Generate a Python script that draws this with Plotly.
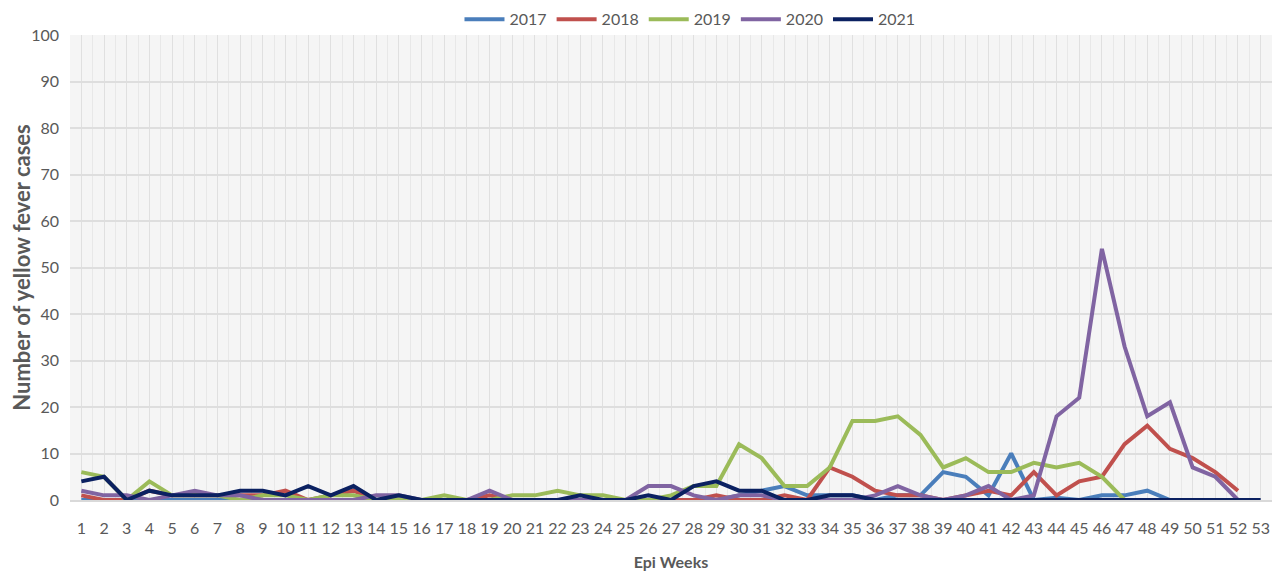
import plotly.graph_objects as go

weeks = list(range(1, 54))

y2017 = [0, 0, 0, 0, 0, 0, 0, 0, 0, 0, 0, 0, 0, 0, 0, 0, 0, 0, 0, 0,
         0, 0, 0, 0, 0, 0, 0, 0, 0, 1, 2, 3, 1, 1, 1, 0, 1, 1, 6, 5,
         1, 10, 0, 0.5, 0, 1, 1, 2, 0, 0, 0, 0]
y2018 = [1, 0, 0, 2, 1, 1, 1, 1, 1, 2, 0, 1, 2, 0, 0, 0, 0, 0, 1, 0,
         0, 0, 0, 0, 0, 0, 0, 0, 1, 0, 0, 1, 0, 7, 5, 2, 1, 1, 0, 1,
         2, 1, 6, 1, 4, 5, 12, 16, 11, 9, 6, 2]
y2019 = [6, 5, 0, 4, 1, 1, 1, 0, 1, 1, 0, 1, 1, 0, 0.5, 0, 1, 0, 0, 1,
         1, 2, 1, 1, 0, 0, 1, 3, 3, 12, 9, 3, 3, 7, 17, 17, 18, 14, 7, 9,
         6, 6, 8, 7, 8, 5, 0]
y2020 = [2, 1, 1, 0, 1, 2, 1, 1, 0, 0, 0, 0, 0, 1, 1, 0, 0, 0, 2, 0,
         0, 0, 0, 0, 0, 3, 3, 1, 0, 1, 1, 0, 0, 0, 0, 1, 3, 1, 0, 1,
         3, 0, 1, 18, 22, 54, 33, 18, 21, 7, 5, 0]
y2021 = [4, 5, 0, 2, 1, 1, 1, 2, 2, 1, 3, 1, 3, 0, 1, 0, 0, 0, 0, 0,
         0, 0, 1, 0, 0, 1, 0, 3, 4, 2, 2, 0, 0, 1, 1, 0, 0, 0, 0, 0,
         0, 0, 0, 0, 0, 0, 0, 0, 0, 0, 0, 0, 0]

series = [
    ("2017", y2017, "#4a7ebb"),
    ("2018", y2018, "#c0504d"),
    ("2019", y2019, "#9bbb59"),
    ("2020", y2020, "#8064a2"),
    ("2021", y2021, "#0b2161"),
]

fig = go.Figure()
for name, vals, color in series:
    fig.add_trace(go.Scatter(
        x=weeks[:len(vals)], y=vals, name=name, mode="lines",
        line=dict(color=color, width=4),
    ))

font_family = "Lato, sans-serif"
grey = "#595959"

fig.update_layout(
    width=1270, height=567,
    margin=dict(l=62, r=6, t=27, b=75, autoexpand=False),
    paper_bgcolor="white",
    plot_bgcolor="#f5f5f5",
    font=dict(family=font_family, color=grey, size=16),
    legend=dict(orientation="h", xref="container", x=0.537, xanchor="center",
                yref="container", y=0.98, yanchor="middle",
                font=dict(size=16, color=grey), traceorder="normal",
                itemwidth=40, bgcolor="rgba(0,0,0,0)"),
    showlegend=True,
)
fig.update_xaxes(
    automargin=False,
    range=[0.5, 53.5], tickmode="array", tickvals=weeks, ticktext=[str(w) for w in weeks],
    showgrid=True, gridcolor="#e0e0e0", gridwidth=1,
    minor=dict(dtick=0.5, tick0=0.5, showgrid=True, gridcolor="#e8e8e8", gridwidth=1),
    showline=True, linecolor="#d9d9d9", linewidth=2,
    zeroline=False, ticks="", tickfont=dict(size=16, color=grey),
    ticklabelstandoff=13,
    title=dict(text="<b>Epi Weeks</b>", font=dict(size=16, color=grey), standoff=21),
)
fig.update_yaxes(
    automargin=False,
    range=[0, 100], dtick=10, showgrid=True, gridcolor="#dedede", gridwidth=2,
    zeroline=False, showline=False, ticks="",
    tickfont=dict(size=16, color=grey), ticklabelstandoff=10,
    title=dict(text="<b>Number of yellow fever cases</b>", font=dict(size=22, color=grey), standoff=9),
)

fig.write_html("out.html")
